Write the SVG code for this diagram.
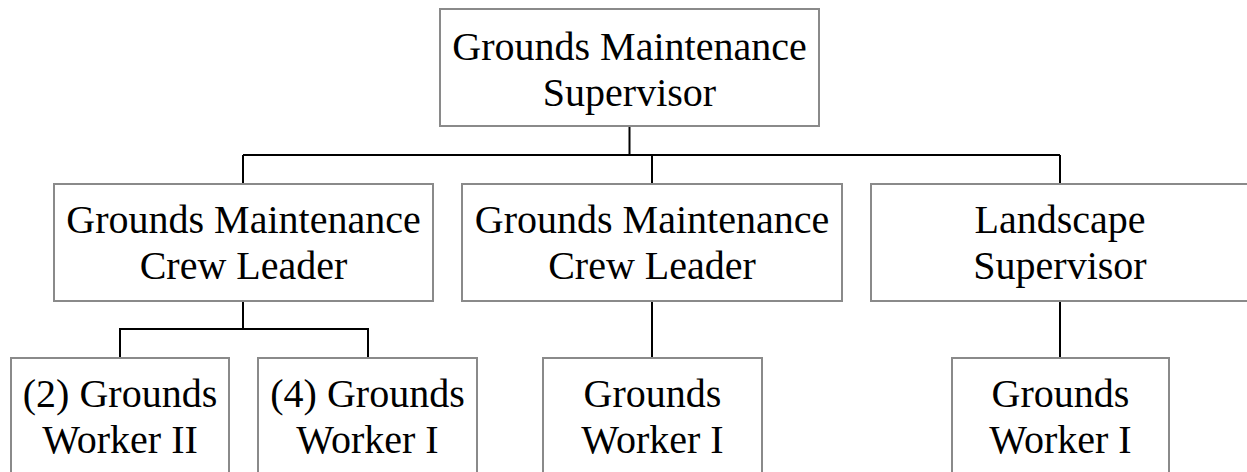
<svg xmlns="http://www.w3.org/2000/svg" width="1247" height="472" viewBox="0 0 1247 472">
  <rect x="0" y="0" width="1247" height="472" fill="#ffffff"/>

  <!-- reporting lines -->
  <g id="connectors" fill="none" stroke="#000000" stroke-width="2">
    <path d="M629.5 126 V155"/>
    <path d="M243 155 H1060"/>
    <path d="M243 155 V184"/>
    <path d="M652 155 V184"/>
    <path d="M1060 155 V184"/>
    <path d="M243 301 V329"/>
    <path d="M120 358 V329 H368 V358"/>
    <path d="M652 301 V358"/>
    <path d="M1060 301 V358"/>
  </g>

  <!-- position boxes: shared stroke and type settings are inherited from this group -->
  <g id="nodes" stroke="#8a8a8a" stroke-width="2" font-family="Liberation Serif" font-size="40" text-anchor="middle">
    <g id="grounds-maintenance-supervisor">
      <rect fill="#ffffff" x="440" y="9" width="379" height="117"/>
      <text stroke="none" fill="#000000" x="629.5" y="60">Grounds Maintenance</text>
      <text stroke="none" fill="#000000" x="629.5" y="106">Supervisor</text>
    </g>

    <g id="crew-leader-a">
      <rect fill="#ffffff" x="54" y="184" width="379" height="117"/>
      <text stroke="none" fill="#000000" x="243.5" y="233">Grounds Maintenance</text>
      <text stroke="none" fill="#000000" x="243.5" y="279">Crew Leader</text>
    </g>

    <g id="crew-leader-b">
      <rect fill="#ffffff" x="462" y="184" width="380" height="117"/>
      <text stroke="none" fill="#000000" x="652" y="233">Grounds Maintenance</text>
      <text stroke="none" fill="#000000" x="652" y="279">Crew Leader</text>
    </g>

    <g id="landscape-supervisor">
      <rect fill="#ffffff" x="871" y="184" width="378" height="117"/>
      <text stroke="none" fill="#000000" x="1060" y="233">Landscape</text>
      <text stroke="none" fill="#000000" x="1060" y="279">Supervisor</text>
    </g>

    <g id="grounds-worker-ii">
      <rect fill="#ffffff" x="11" y="358" width="218" height="130"/>
      <text stroke="none" fill="#000000" x="120" y="407">(2) Grounds</text>
      <text stroke="none" fill="#000000" x="120" y="453">Worker II</text>
    </g>

    <g id="grounds-worker-i-a">
      <rect fill="#ffffff" x="258" y="358" width="219" height="130"/>
      <text stroke="none" fill="#000000" x="367.5" y="407">(4) Grounds</text>
      <text stroke="none" fill="#000000" x="367.5" y="453">Worker I</text>
    </g>

    <g id="grounds-worker-i-b">
      <rect fill="#ffffff" x="543" y="358" width="219" height="130"/>
      <text stroke="none" fill="#000000" x="652.5" y="407">Grounds</text>
      <text stroke="none" fill="#000000" x="652.5" y="453">Worker I</text>
    </g>

    <g id="grounds-worker-i-c">
      <rect fill="#ffffff" x="952" y="358" width="217" height="130"/>
      <text stroke="none" fill="#000000" x="1060.5" y="407">Grounds</text>
      <text stroke="none" fill="#000000" x="1060.5" y="453">Worker I</text>
    </g>
  </g>
</svg>
